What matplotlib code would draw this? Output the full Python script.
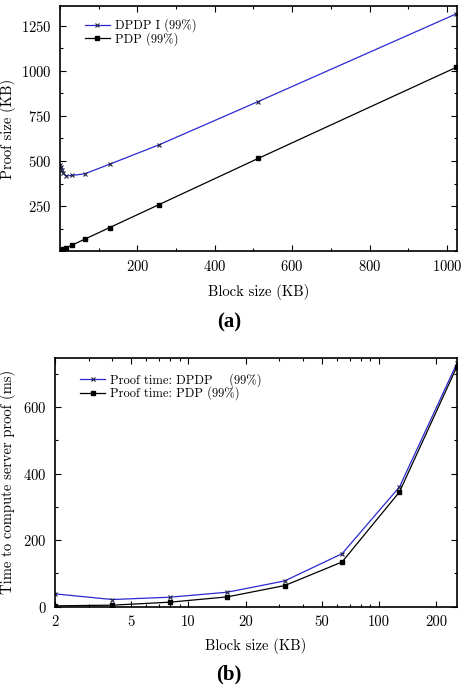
import matplotlib
matplotlib.use("Agg")
import matplotlib.pyplot as plt
from matplotlib.ticker import MultipleLocator, LogLocator, FixedLocator, NullFormatter, FixedFormatter

# ---- data ----
block_a = [1, 2, 4, 8, 16, 32, 64, 128, 256, 512, 1024]
dpdp_a = [478, 468, 450, 433, 417, 420, 429, 482, 590, 830, 1317]
pdp_a = [1, 2, 4, 9, 17, 34, 66, 130, 258, 514, 1020]

block_b = [2, 4, 8, 16, 32, 64, 128, 256]
dpdp_b = [38, 21, 28, 43, 77, 159, 360, 732]
pdp_b = [2, 4, 13, 29, 63, 134, 345, 722]

xt_b = [2, 5, 10, 20, 50, 100, 200]

plt.rcParams['font.family'] = ['cmr10', 'DejaVu Serif']
plt.rcParams['axes.formatter.use_mathtext'] = True
plt.rcParams['mathtext.fontset'] = 'cm'

BLUE = '#2a2ad0'
TFS = 10.5
LFS = 10.5
GFS = 9

fig = plt.figure(figsize=(4.62, 6.84), dpi=100)

def style(ax):
    for s in ax.spines.values():
        s.set_linewidth(1.2)
    ax.tick_params(which='both', direction='in', top=True, right=True, labelsize=TFS, pad=6)
    ax.tick_params(which='major', length=4, width=0.8)
    ax.tick_params(which='minor', length=2.5, width=0.8)

# ---- (a) ----
ax1 = fig.add_axes([0.13, 0.633, 0.859, 0.358])
ax1.plot(block_a, dpdp_a, color=BLUE, lw=0.9, marker='x', ms=3.5, mew=0.8, mec='#202040', label='DPDP I (99%)')
ax1.plot(block_a, pdp_a, color='black', lw=0.9, marker='s', ms=2.8, label='PDP (99%)')
ax1.set_xlim(0, 1026)
ax1.set_ylim(0, 1360)
ax1.xaxis.set_major_locator(FixedLocator([200, 400, 600, 800, 1000]))
ax1.xaxis.set_minor_locator(MultipleLocator(100))
ax1.yaxis.set_major_locator(FixedLocator([250, 500, 750, 1000, 1250]))
ax1.yaxis.set_minor_locator(MultipleLocator(125))
style(ax1)
ax1.set_xlabel('Block size (KB)', fontsize=LFS, labelpad=7)
ax1.set_ylabel('Proof size (KB)', fontsize=LFS)
ax1.yaxis.set_label_coords(-0.112, 0.5)
ax1.legend(loc='upper left', bbox_to_anchor=(0.05, 0.97), frameon=False, fontsize=GFS,
           handlelength=2.0, handletextpad=0.4, labelspacing=0.0, borderaxespad=0)

fig.text(0.497, 1 - 322 / 684, '(a)', ha='center', va='center', fontsize=15,
         fontweight='bold', family='Liberation Serif')

# ---- (b) ----
ax2 = fig.add_axes([0.119, 0.1133, 0.87, 0.3633])
ax2.plot(block_b, dpdp_b, color=BLUE, lw=0.9, marker='x', ms=3.5, mew=0.8, mec='#202040',
         label='Proof time: DPDP    (99%)')
ax2.plot(block_b, pdp_b, color='black', lw=0.9, marker='s', ms=2.8, label='Proof time: PDP (99%)')
ax2.set_xscale('log')
ax2.set_xlim(2, 256)
ax2.set_ylim(0, 748)
ax2.xaxis.set_major_locator(FixedLocator(xt_b))
ax2.xaxis.set_major_formatter(FixedFormatter([str(v) for v in xt_b]))
ax2.xaxis.set_minor_locator(LogLocator(base=10, subs=(3, 4, 6, 7, 8, 9), numticks=20))
ax2.xaxis.set_minor_formatter(NullFormatter())
ax2.yaxis.set_major_locator(FixedLocator([0, 200, 400, 600]))
ax2.yaxis.set_minor_locator(MultipleLocator(100))
style(ax2)
ax2.set_xlabel('Block size (KB)', fontsize=LFS, labelpad=7)
ax2.set_ylabel('Time to compute server proof (ms)', fontsize=LFS)
ax2.yaxis.set_label_coords(-0.098, 0.5)
ax2.legend(loc='upper left', bbox_to_anchor=(0.05, 0.96), frameon=False, fontsize=GFS,
           handlelength=2.0, handletextpad=0.4, labelspacing=0.0, borderaxespad=0)

fig.text(0.496, 1 - 674 / 684, '(b)', ha='center', va='center', fontsize=15,
         fontweight='bold', family='Liberation Serif')

fig.savefig('out.png', dpi=100)
